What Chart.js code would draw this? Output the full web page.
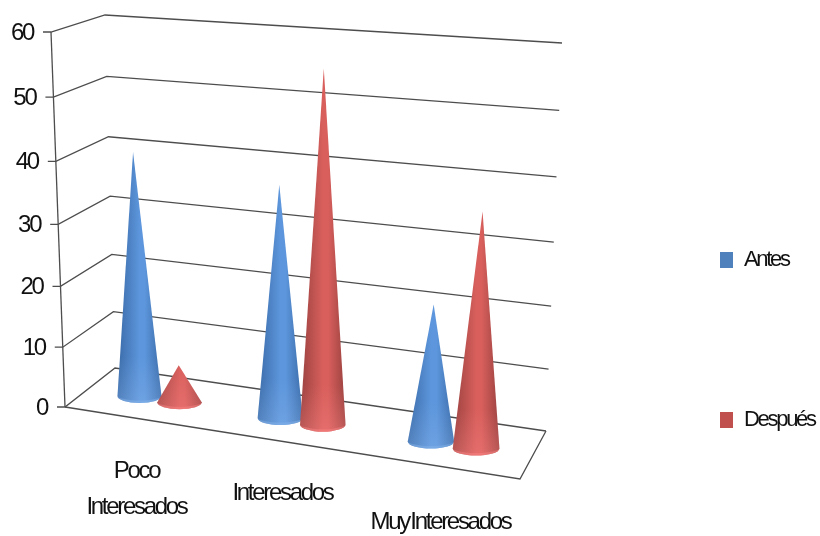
<!DOCTYPE html>
<html>
<head>
<meta charset="utf-8">
<title>Antes y después</title>
<script src="https://cdn.jsdelivr.net/npm/chart.js@4"></script>
<style>
    body { margin: 0; background: #fff; }
</style>
</head>
<body>
<canvas id="chart" width="820" height="536"></canvas>
<script>
const categories = [["Poco", "Interesados"], ["Interesados"], ["Muy Interesados"]];
const antes = [40, 37, 21];
const despues = [6, 56, 36];
const yTicks = [0, 10, 20, 30, 40, 50, 60];

const textFont = "'Liberation Sans', Arial, sans-serif";
const gridColor = "#4d4d4d";
// where the category label sits, relative to the category tick and the axis bottom
const labelOffsets = [[-23, 82], [-24, 86], [-13, 115]];

// Frame corners of the 3D box: [at value 0, at value 60]
const frontLeft = [[65, 407], [51, 32]];
const backLeft = [[115, 368], [105, 15]];
const backRight = [[546, 431], [562, 43]];
const frontRight = [520, 479];

function corner(c, v) {
    let t = v / 60;
    t = t - 0.052 * t * (1 - t); // levels open up slightly towards the top
    return [c[0][0] + (c[1][0] - c[0][0]) * t, c[0][1] + (c[1][1] - c[0][1]) * t];
}

function line(ctx, pts) {
    ctx.beginPath();
    pts.forEach((p, i) => i ? ctx.lineTo(p[0], p[1]) : ctx.moveTo(p[0], p[1]));
    ctx.stroke();
}

function drawWalls(chart) {
    const ctx = chart.ctx;
    ctx.save();
    ctx.strokeStyle = gridColor;
    ctx.lineWidth = 1.3;
    yTicks.forEach(v => {
        const a = corner(frontLeft, v);
        line(ctx, [[a[0] - 8, a[1]], a, corner(backLeft, v), corner(backRight, v)]);
    });
    line(ctx, [corner(frontLeft, 60), corner(frontLeft, 0)]);
    line(ctx, [corner(frontLeft, 0), frontRight, corner(backRight, 0)]);
    ctx.restore();
}

function drawCone(ctx, x, baseY, tipX, tipY, hw, dark, mid, light) {
    const ry = 7;
    const g = ctx.createLinearGradient(x - hw, 0, x + hw, 0);
    g.addColorStop(0, dark);
    g.addColorStop(0.5, mid);
    g.addColorStop(0.62, mid);
    g.addColorStop(1, dark);

    const cone = () => {
        ctx.beginPath();
        ctx.moveTo(tipX, tipY);
        ctx.lineTo(x + hw, baseY);
        ctx.ellipse(x, baseY, hw, ry, 0, 0, Math.PI);
        ctx.closePath();
    };
    ctx.fillStyle = g;
    cone();
    ctx.fill();

    // lighter band along the foot of the cone
    ctx.save();
    cone();
    ctx.clip();
    const v = ctx.createLinearGradient(0, baseY - 40, 0, baseY + ry);
    v.addColorStop(0, light + "00");
    v.addColorStop(1, light + "55");
    ctx.fillStyle = v;
    ctx.fillRect(x - hw, baseY - 40, hw * 2, 40 + ry);
    ctx.beginPath();
    ctx.ellipse(x, baseY - 2.5, hw + 3, ry, 0, 0, Math.PI);
    ctx.lineTo(x - hw - 3, baseY + ry + 3);
    ctx.lineTo(x + hw + 3, baseY + ry + 3);
    ctx.closePath();
    ctx.fillStyle = light + "66";
    ctx.fill();
    ctx.restore();
}

const conePalette = [
    ["#3a6ba8", "#5d96dc", "#8db8ee"],
    ["#9a4240", "#d85f5c", "#ff8a8a"]
];

const conePlugin = {
    id: "cone3d",
    beforeDraw(chart) {
        chart.ctx.letterSpacing = "-2.3px";
    },
    beforeDatasetsDraw(chart) {
        const ctx = chart.ctx;
        const xs = chart.scales.x;
        const ys = chart.scales.y;
        const zero = ys.getPixelForValue(0);
        const first = xs.getPixelForValue(0);
        const span = xs.getPixelForValue(2) - first;

        drawWalls(chart);

        categories.forEach((c, i) => {
            chart.data.datasets.forEach((ds, d) => {
                const el = chart.getDatasetMeta(d).data[i];
                // perspective: groups bunch towards the viewer, floor runs downhill
                const group = xs.getPixelForValue(i);
                const t = (group - first) / span;
                const x = group - 20 * t * (1 - t) + (el.x - group) * (0.93 + 0.12 * t);
                const baseY = 396 + (x - 139) * 0.156;
                const hw = 22 + (x - 139) * 0.004;
                const s = (6.1 + (x - 139) * 0.00145) / 6.25;
                const h = (zero - el.y) * s;
                const tipX = x + (x - 305) * h * 0.00016;
                const p = conePalette[d];
                drawCone(ctx, x, baseY, tipX, baseY - h, hw, p[0], p[1], p[2]);
            });
        });
        return false;
    },
    afterDraw(chart) {
        const ctx = chart.ctx;
        const xs = chart.scales.x;
        const ys = chart.scales.y;
        ctx.save();
        ctx.fillStyle = "#111";
        ctx.font = "24px " + textFont;
        ctx.wordSpacing = "-3px";
        ctx.textBaseline = "middle";

        // value labels follow the slanted front edge
        ctx.textAlign = "right";
        ys.ticks.forEach(tick => {
            const a = corner(frontLeft, tick.value);
            ctx.fillText(tick.label, a[0] - 18, a[1] + 1);
        });

        ctx.textAlign = "center";
        categories.forEach((c, i) => {
            const x = xs.getPixelForValue(i) + labelOffsets[i][0];
            const mid = ys.bottom + labelOffsets[i][1];
            c.forEach((txt, k) => {
                ctx.fillText(txt, x, mid + (k - (c.length - 1) / 2) * 36);
            });
        });
        ctx.restore();
    },
    afterLayout(chart) {
        // the legend keeps its slot in the layout, its items sit right of the box
        const pad = chart.options.plugins.legend.labels.padding;
        chart.legend.left = 720 - pad;
        chart.legend.right = 820;
        chart.legend.top = 249 - pad;
        chart.legend.bottom = 800;
    }
};

new Chart(document.getElementById("chart"), {
    type: "bar",
    data: {
        labels: categories,
        datasets: [
            { label: "Antes", data: antes, backgroundColor: "#4f81bd" },
            { label: "Después", data: despues, backgroundColor: "#c0504d" }
        ]
    },
    options: {
        responsive: false,
        animation: false,
        categoryPercentage: 0.585,
        barPercentage: 1,
        layout: {
            autoPadding: false,
            padding: { top: 32, right: 93, left: 0, bottom: 0 }
        },
        scales: {
            x: {
                grid: { display: false },
                border: { display: false },
                ticks: { display: false },
                afterFit: s => { s.height = 129; }
            },
            y: {
                min: 0,
                max: 60,
                afterBuildTicks: s => { s.ticks = yTicks.map(v => ({ value: v, label: String(v) })); },
                grid: { display: false },
                border: { display: false },
                ticks: { display: false },
                afterFit: s => { s.width = 86; }
            }
        },
        plugins: {
            tooltip: { enabled: false },
            legend: {
                position: "right",
                align: "start",
                maxWidth: 200,
                labels: {
                    boxWidth: 13,
                    boxHeight: 16,
                    padding: 138,
                    color: "#111",
                    font: { family: textFont, size: 22 }
                }
            }
        }
    },
    plugins: [conePlugin]
});
</script>
</body>
</html>
